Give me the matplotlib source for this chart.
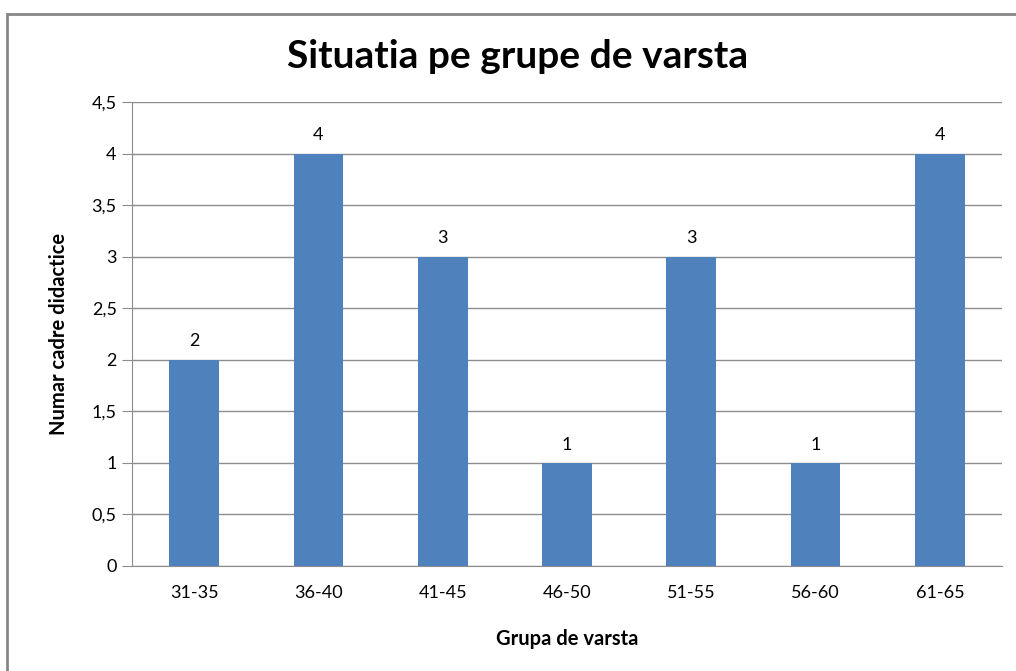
import matplotlib
matplotlib.use("Agg")
import matplotlib.pyplot as plt
from matplotlib.patches import Rectangle

categories = ["31-35", "36-40", "41-45", "46-50", "51-55", "56-60", "61-65"]
values = [2, 4, 3, 1, 3, 1, 4]
yticks = [0, 0.5, 1, 1.5, 2, 2.5, 3, 3.5, 4, 4.5]
ytick_labels = ["0", "0,5", "1", "1,5", "2", "2,5", "3", "3,5", "4", "4,5"]

plt.rcParams['font.family'] = ['Lato', 'DejaVu Sans']

W, H = 1016, 671
fig = plt.figure(figsize=(W / 100, H / 100), dpi=100)
fig.patch.set_facecolor("white")

# outer chart border
fig.patches.append(Rectangle((7 / W, -0.1), 1.2, (1 - 14 / H) + 0.1,
                             transform=fig.transFigure, fill=False,
                             edgecolor="#868686", linewidth=2))

ax = fig.add_axes([132 / W, 1 - 566 / H, (1002 - 132) / W, (566 - 102) / H])
x = list(range(len(categories)))
bars = ax.bar(x, values, width=0.4, color="#4F81BD", zorder=3)
ax.set_xlim(-0.5, len(categories) - 0.5)
ax.set_ylim(0, 4.5)
ax.set_yticks(yticks)
ax.set_yticklabels(ytick_labels, fontsize=13)
ax.set_xticks(x)
ax.set_xticklabels(categories, fontsize=13)
ax.grid(axis="y", color="#8c8c8c", linewidth=1, zorder=0)
for s in ["top", "right"]:
    ax.spines[s].set_visible(False)
for s in ["left", "bottom"]:
    ax.spines[s].set_color("#8c8c8c")
ax.tick_params(axis="y", length=7, color="#8c8c8c", pad=4)
ax.tick_params(axis="x", length=0, pad=14)

for xi, v in zip(x, values):
    ax.text(xi, v + 0.1, str(v), ha="center", va="bottom", fontsize=13)

ax.set_ylabel("Numar cadre didactice", fontsize=14.5, fontweight="bold", labelpad=16)
ax.set_xlabel("Grupa de varsta", fontsize=14.5, fontweight="bold", labelpad=20)

fig.text(518 / W, 1 - 56 / H, "Situatia pe grupe de varsta", ha="center", va="center",
         fontsize=28, fontweight="bold")

fig.savefig("out.png", dpi=100)
